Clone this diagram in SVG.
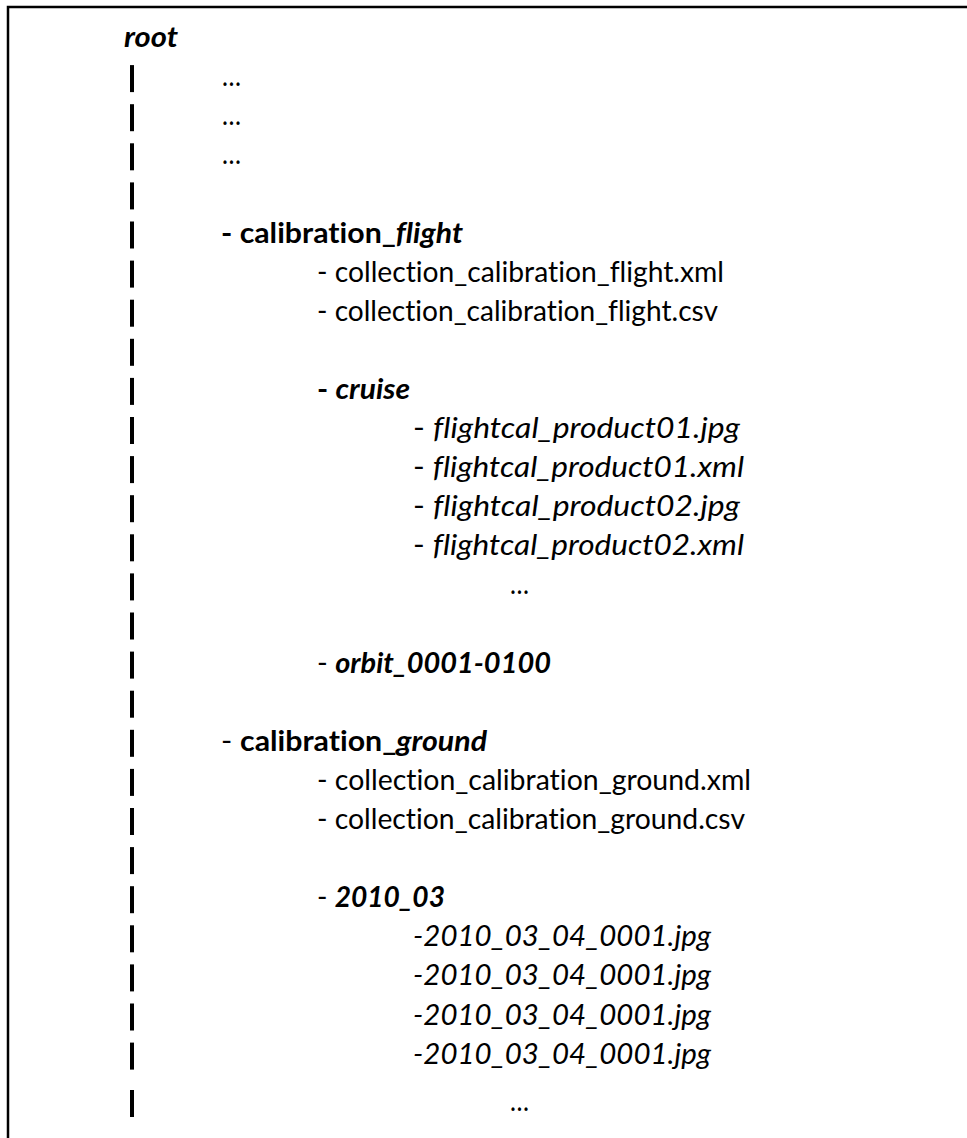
<svg xmlns="http://www.w3.org/2000/svg" width="967" height="1138" viewBox="0 0 967 1138">
<style>
text{font-family:Lato,"Noto Sans","Liberation Sans",sans-serif;font-size:29.33px;fill:#000;font-variant-ligatures:none;font-feature-settings:"liga" 0,"clig" 0}
.b{font-weight:bold}
.i{font-style:italic}
.bi{font-weight:bold;font-style:italic}
.bar{fill:#000}
</style>
<rect width="967" height="1138" fill="#fff"/>
<g id="frame"><path d="M8 1138 V7 H967" fill="none" stroke="#000" stroke-width="2.5"/></g>
<g id="connectors">
<rect class="bar" x="130" y="65.1" width="4" height="27"/>
<rect class="bar" x="130" y="104.2" width="4" height="27"/>
<rect class="bar" x="130" y="143.3" width="4" height="27"/>
<rect class="bar" x="130" y="182.4" width="4" height="27"/>
<rect class="bar" x="130" y="221.5" width="4" height="27"/>
<rect class="bar" x="130" y="260.6" width="4" height="27"/>
<rect class="bar" x="130" y="299.7" width="4" height="27"/>
<rect class="bar" x="130" y="338.8" width="4" height="27"/>
<rect class="bar" x="130" y="377.9" width="4" height="27"/>
<rect class="bar" x="130" y="417" width="4" height="27"/>
<rect class="bar" x="130" y="456.1" width="4" height="27"/>
<rect class="bar" x="130" y="495.2" width="4" height="27"/>
<rect class="bar" x="130" y="534.3" width="4" height="27"/>
<rect class="bar" x="130" y="573.4" width="4" height="27"/>
<rect class="bar" x="130" y="612.5" width="4" height="27"/>
<rect class="bar" x="130" y="651.6" width="4" height="27"/>
<rect class="bar" x="130" y="690.7" width="4" height="27"/>
<rect class="bar" x="130" y="729.8" width="4" height="27"/>
<rect class="bar" x="130" y="768.9" width="4" height="27"/>
<rect class="bar" x="130" y="808" width="4" height="27"/>
<rect class="bar" x="130" y="847.1" width="4" height="27"/>
<rect class="bar" x="130" y="886.2" width="4" height="27"/>
<rect class="bar" x="130" y="925.3" width="4" height="27"/>
<rect class="bar" x="130" y="964.4" width="4" height="27"/>
<rect class="bar" x="130" y="1003.5" width="4" height="27"/>
<rect class="bar" x="130" y="1042.6" width="4" height="27"/>
<rect class="bar" x="130" y="1090" width="4" height="27"/>
</g>
<g id="root"><text x="124" y="47" class="bi" textLength="54" lengthAdjust="spacingAndGlyphs">root</text></g>
<g id="misc">
<text x="222" y="86.1" textLength="19" lengthAdjust="spacingAndGlyphs">…</text>
<text x="222" y="125.2" textLength="19" lengthAdjust="spacingAndGlyphs">…</text>
<text x="222" y="164.3" textLength="19" lengthAdjust="spacingAndGlyphs">…</text>
</g>
<g id="calibration_flight">
<text x="221" y="242.5" class="b" textLength="242" lengthAdjust="spacingAndGlyphs">- calibration_<tspan class="bi">flight</tspan></text>
<text x="317" y="281.6" textLength="407" lengthAdjust="spacingAndGlyphs">- collection_calibration_flight.xml</text>
<text x="317" y="320.7" textLength="401" lengthAdjust="spacingAndGlyphs">- collection_calibration_flight.csv</text>
</g>
<g id="cruise">
<text x="317" y="398.9" class="b" textLength="93" lengthAdjust="spacingAndGlyphs">- <tspan class="bi">cruise</tspan></text>
<text x="413" y="438" textLength="327" lengthAdjust="spacingAndGlyphs">- <tspan class="i">flightcal_product01.jpg</tspan></text>
<text x="413" y="477.1" textLength="331" lengthAdjust="spacingAndGlyphs">- <tspan class="i">flightcal_product01.xml</tspan></text>
<text x="413" y="516.2" textLength="327" lengthAdjust="spacingAndGlyphs">- <tspan class="i">flightcal_product02.jpg</tspan></text>
<text x="413" y="555.3" textLength="331" lengthAdjust="spacingAndGlyphs">- <tspan class="i">flightcal_product02.xml</tspan></text>
<text x="510" y="594.4" textLength="19" lengthAdjust="spacingAndGlyphs">…</text>
</g>
<g id="orbit">
<text x="317" y="672.6" textLength="234" lengthAdjust="spacingAndGlyphs">- <tspan class="bi">orbit_0001-0100</tspan></text>
</g>
<g id="calibration_ground">
<text x="221" y="750.8" textLength="266" lengthAdjust="spacingAndGlyphs">- <tspan class="b">calibration_</tspan><tspan class="bi">ground</tspan></text>
<text x="317" y="789.9" textLength="434" lengthAdjust="spacingAndGlyphs">- collection_calibration_ground.xml</text>
<text x="317" y="829" textLength="428" lengthAdjust="spacingAndGlyphs">- collection_calibration_ground.csv</text>
</g>
<g id="d2010_03">
<text x="317" y="907.2" textLength="128" lengthAdjust="spacingAndGlyphs">- <tspan class="bi">2010_03</tspan></text>
<text x="413" y="946.3" class="i" textLength="298" lengthAdjust="spacingAndGlyphs">-2010_03_04_0001.jpg</text>
<text x="413" y="985.4" class="i" textLength="298" lengthAdjust="spacingAndGlyphs">-2010_03_04_0001.jpg</text>
<text x="413" y="1024.5" class="i" textLength="298" lengthAdjust="spacingAndGlyphs">-2010_03_04_0001.jpg</text>
<text x="413" y="1063.6" class="i" textLength="298" lengthAdjust="spacingAndGlyphs">-2010_03_04_0001.jpg</text>
<text x="510" y="1111" textLength="19" lengthAdjust="spacingAndGlyphs">…</text>
</g>
</svg>
